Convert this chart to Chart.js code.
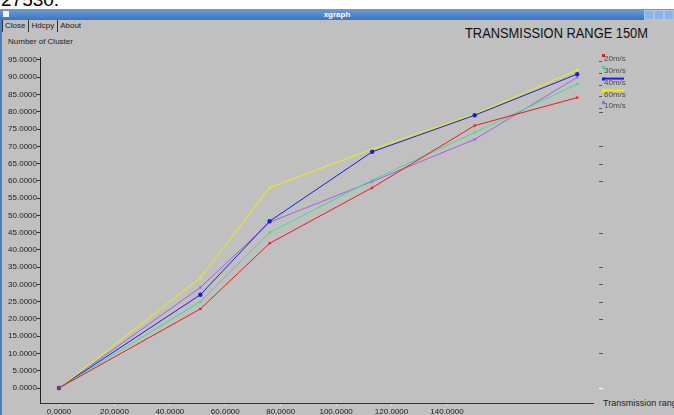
<!DOCTYPE html>
<html>
<head>
<meta charset="utf-8">
<script src="https://cdn.jsdelivr.net/npm/chart.js@4.4.1/dist/chart.umd.min.js"></script>
<style>
html, body { margin: 0; padding: 0; }
body { width: 674px; height: 415px; position: relative; overflow: hidden; background: #c0c0c0; font-family: "Liberation Sans", Arial, sans-serif; }
#doc { position: absolute; left: 0; top: 0; width: 674px; height: 9px; background: #fff; overflow: hidden; }
#doc span { position: absolute; left: 1px; top: -11px; font-size: 19px; color: #000; }
#titlebar { position: absolute; left: 0; top: 9px; width: 674px; height: 11px; background: linear-gradient(#6c9bd6, #3e74c0); color: #fff; font-size: 8px; font-weight: bold; text-align: center; line-height: 11px; }
#titlebar .ico { position: absolute; left: 3px; top: 2px; width: 6px; height: 6px; background: #f4f4f4; }
#titlebar .btn { position: absolute; top: 1px; width: 8px; height: 8px; background: #8fb4e4; border: 1px solid #a8c6ee; }
#leftedge { position: absolute; left: 0; top: 20px; width: 2px; height: 395px; background: #4a7fc6; }
#menu { position: absolute; left: 2px; top: 20px; height: 12px; font-size: 8px; color: #222; }
#menu span { float: left; border-left: 1px solid #333; padding: 0 2px; line-height: 12px; margin-right: 1px; }
#ylabel { position: absolute; left: 8px; top: 37px; font-size: 8px; color: #222; }
#title { position: absolute; left: 465px; top: 24px; font-size: 15px; color: #111; white-space: nowrap; transform-origin: 0 0; }
#xlabel { position: absolute; left: 603px; top: 398px; font-size: 9px; color: #222; white-space: nowrap; }
#chart { position: absolute; left: 0; top: 45px; }
</style>
</head>
<body>
<div id="doc"><span>27530.</span></div>
<div id="titlebar"><div class="ico"></div>xgraph
  <div class="btn" style="left:644px"></div><div class="btn" style="left:654px"></div><div class="btn" style="left:664px"></div>
</div>
<div id="leftedge"></div>
<div id="menu"><span>Close</span><span>Hdcpy</span><span>About</span></div>
<div id="ylabel">Number of Cluster</div>
<div id="title">TRANSMISSION RANGE 150M</div>
<div id="xlabel">Transmission range</div>
<canvas id="chart" width="674" height="370"></canvas>
<script>
// valores
const xValues = [0, 51, 76, 113, 150, 187];
const seriesNames = ['20m/s', '30m/s', '40m/s', '60m/s', '10m/s'];
const speed20 = [0, 22.9, 41.9, 58.0, 76.0, 84.1];
const speed30 = [0, 25.0, 45.0, 60.2, 74.0, 88.0];
const speed40 = [0, 27.0, 48.3, 68.4, 79.0, 90.9];
const speed60 = [0, 31.9, 58.0, 69.2, 79.3, 92.1];
const speed10 = [0, 29.1, 48.0, 59.8, 72.0, 90.0];
const yTicks = [0, 5, 10, 15, 20, 25, 30, 35, 40, 45, 50, 55, 60, 65, 70, 75, 80, 85, 90, 95];
const xTicks = [0, 20, 40, 60, 80, 100, 120, 140];
const rightMarks = [80, 70, 65, 60, 45, 35, 30, 25, 20, 10, 0];

const colors = ['#f01818', '#38e08c', '#1c1ce0', '#f0f000', '#a45ee8'];
const allSeries = [speed20, speed30, speed40, speed60, speed10];
const axisFont = { family: '"Liberation Sans", Arial, sans-serif', size: 8 };

function toPoints(arr) {
    return arr.map((v, i) => ({ x: xValues[i], y: v }));
}

// titulo ajustado al ancho
const titleEl = document.getElementById('title');
const tw = titleEl.getBoundingClientRect().width;
titleEl.style.transform = `scaleX(${183 / tw})`;

// leyenda al estilo xgraph + marcas del lado derecho
const xgraphDeco = {
    id: 'xgraphDeco',
    afterDatasetsDraw(chart) {
        const ctx = chart.ctx;
        const yScale = chart.scales.y;
        ctx.save();
        rightMarks.forEach(v => {
            const py = Math.round(yScale.getPixelForValue(v)) + 0.5;
            ctx.strokeStyle = v === 0 ? '#ffffff' : '#555555';
            ctx.beginPath();
            ctx.moveTo(599, py);
            ctx.lineTo(603, py);
            ctx.stroke();
        });
        ctx.font = '8px "Liberation Sans", Arial, sans-serif';
        ctx.textBaseline = 'middle';
        chart.data.datasets.forEach((ds, i) => {
            const my = 10 + i * 11.8;
            if (i === 2 || i === 3) {
                ctx.strokeStyle = ds.borderColor;
                ctx.lineWidth = i === 2 ? 2 : 1.5;
                ctx.beginPath();
                ctx.moveTo(603, my);
                ctx.lineTo(624, my);
                ctx.stroke();
            }
            ctx.fillStyle = ds.borderColor;
            ctx.fillRect(602, my - 1, 3, 3);
            ctx.strokeStyle = '#555';
            ctx.lineWidth = 1;
            ctx.beginPath();
            ctx.moveTo(599, Math.round(my + 6) + 0.5);
            ctx.lineTo(602, Math.round(my + 6) + 0.5);
            ctx.stroke();
            ctx.fillStyle = '#4a4a4a';
            ctx.fillText(ds.label, 604, my + 4);
        });
        ctx.restore();
    }
};

new Chart(document.getElementById('chart').getContext('2d'), {
    type: 'line',
    data: {
        datasets: allSeries.map((s, i) => ({
            label: seriesNames[i],
            data: toPoints(s),
            borderColor: colors[i],
            backgroundColor: colors[i],
            borderWidth: 1,
            fill: false,
            tension: 0,
            pointStyle: i === 2 ? 'circle' : 'rect',
            pointRadius: i === 2 ? 2.2 : 1.6,
            pointBorderWidth: 0
        }))
    },
    options: {
        responsive: false,
        animation: false,
        devicePixelRatio: 1,
        layout: { padding: { left: 0, right: 81, top: 12, bottom: 0 } },
        plugins: { legend: { display: false }, tooltip: { enabled: false } },
        scales: {
            x: {
                type: 'linear',
                min: -6.86,
                max: 192.7,
                afterFit(scale) { scale.height = 12; },
                afterBuildTicks(scale) { scale.ticks = xTicks.map(v => ({ value: v })); },
                border: { display: true, color: '#333', dash: [2, 2], width: 1 },
                grid: { display: true, drawOnChartArea: false, tickLength: 3, color: '#e4e4e4' },
                ticks: {
                    padding: 1,
                    maxRotation: 0,
                    autoSkip: false,
                    color: '#222',
                    font: axisFont,
                    callback: v => v.toFixed(4)
                }
            },
            y: {
                type: 'linear',
                min: -4.34,
                max: 95.86,
                afterFit(scale) { scale.width = 40; },
                afterBuildTicks(scale) { scale.ticks = yTicks.map(v => ({ value: v })); },
                border: { display: true, color: '#222', dash: [1, 2], width: 1 },
                grid: { display: true, drawOnChartArea: false, tickLength: 3, color: '#333' },
                ticks: {
                    padding: 0,
                    autoSkip: false,
                    color: '#222',
                    font: axisFont,
                    callback: v => v.toFixed(4)
                }
            }
        }
    },
    plugins: [xgraphDeco]
});
</script>
</body>
</html>
